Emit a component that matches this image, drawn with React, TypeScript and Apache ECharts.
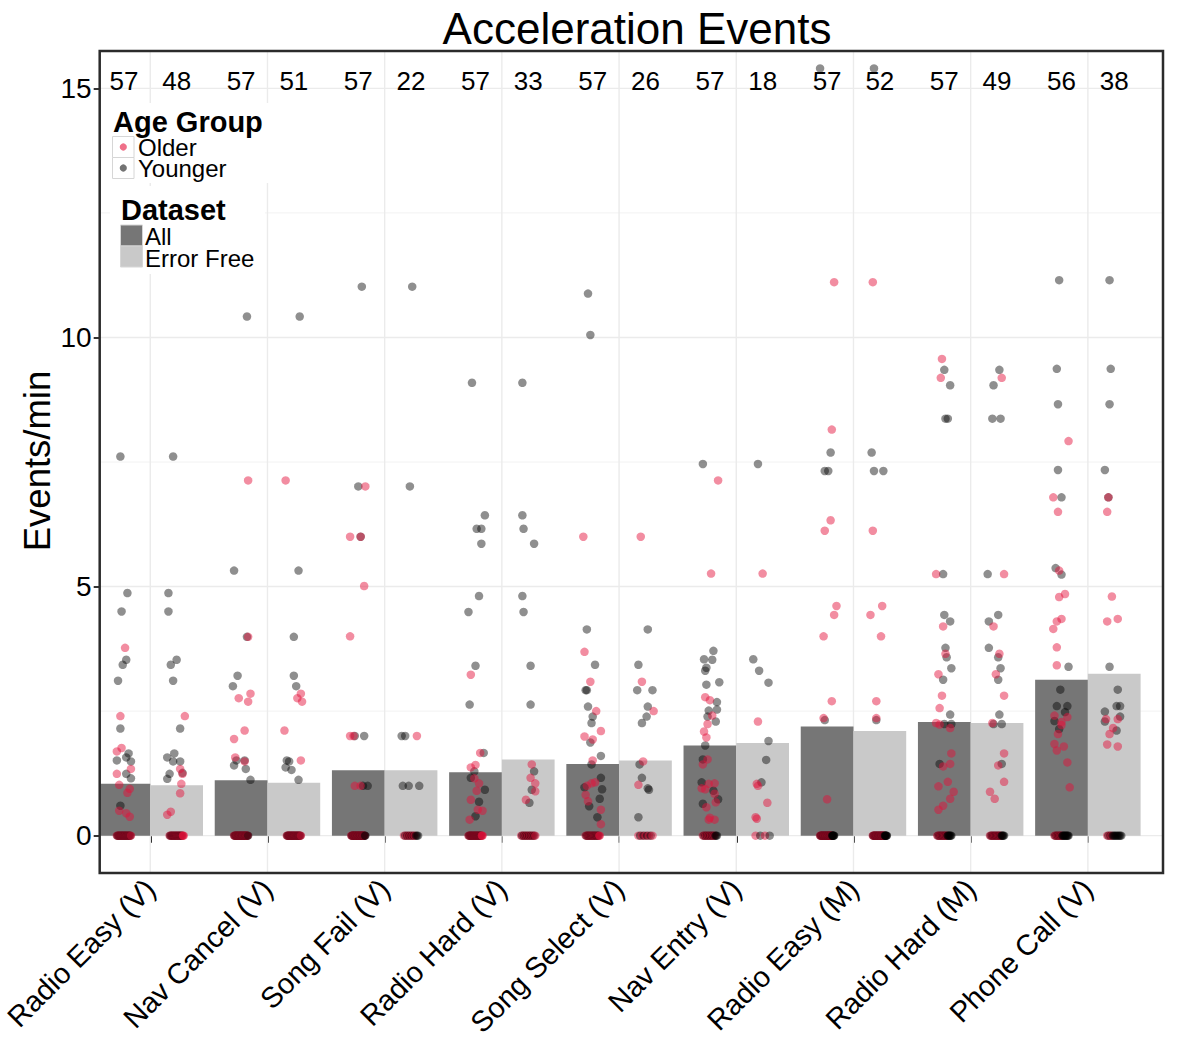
import React, { useEffect, useRef } from 'react';
import * as echarts from 'echarts';

// Task categories along the x axis
const categories = [
  'Radio Easy (V)', 'Nav Cancel (V)', 'Song Fail (V)', 'Radio Hard (V)', 'Song Select (V)',
  'Nav Entry (V)', 'Radio Easy (M)', 'Radio Hard (M)', 'Phone Call (V)',
];

// Mean events/min per category for each dataset
const meanAll = [1.04, 1.11, 1.31, 1.27, 1.44, 1.81, 2.19, 2.28, 3.13];
const meanErrorFree = [1.01, 1.06, 1.31, 1.53, 1.51, 1.86, 2.10, 2.26, 3.25];

// Number of drivers per category and dataset
const countAll = [57, 57, 57, 57, 57, 57, 57, 57, 56];
const countErrorFree = [48, 51, 22, 33, 26, 18, 52, 49, 38];

const yTicks = [0, 5, 10, 15];
const yGrid = [0, 2.5, 5, 7.5, 10, 12.5, 15];

// Individual drivers: [events/min, horizontal jitter in hundredths of a category]
type Pt = [number, number];

const olderAll: Pt[][] = [
  [[3.77, 1], [2.40, -3], [1.76, -2], [1.69, -6], [1.34, 6], [1.24, -6], [1.02, -4], [0.94, 5], [0.86, 3], [0.50, -4], [0.45, 2], [0.38, 5]],
  [[7.13, 6], [3.99, 6], [2.85, 8], [2.76, -2], [2.69, 6], [2.11, 3], [1.94, -6], [1.57, -5], [1.49, 3]],
  [[7.01, 6], [6.0, -7], [6.0, 2], [5.01, 5], [4.0, -7], [2.0, -7], [2.0, -4], [1.0, -3], [1.0, 2]],
  [[3.23, -4], [1.66, 4], [1.42, 0], [1.37, -4], [1.15, -1], [1.05, 3], [0.90, 1], [0.72, -4], [0.52, 2], [0.50, 6], [0.32, -5]],
  [[6.0, -8], [3.69, -7], [3.09, -2], [2.50, 3], [2.10, 7], [1.99, -7], [1.93, 0], [1.51, 0], [1.07, 2], [1.05, -1], [1.00, -5], [0.82, -6], [0.69, -4], [0.52, 7], [0.23, 7]],
  [[7.13, 7], [5.26, 1], [2.78, -4], [2.72, 0], [2.41, 2], [2.24, -2], [2.09, -5], [1.97, -3], [1.53, -2], [1.43, -6], [1.05, 4], [1.04, -1], [0.95, -7], [0.93, -4], [0.84, 4], [0.67, 5], [0.57, -3], [0.36, 0], [0.32, 4], [0.32, -1]],
  [[11.11, 6], [8.15, 4], [6.33, 3], [6.12, -2], [4.61, 8], [4.43, 6], [4.0, -3], [2.70, 4], [2.36, -3], [0.73, 0]],
  [[9.57, -2], [9.19, -3], [5.25, -7], [4.20, -1], [3.65, 1], [3.24, -5], [2.81, -2], [2.56, -4], [2.26, -7], [2.23, -4], [2.16, 5], [1.65, 6], [1.44, 5], [1.39, -1], [1.08, 3], [0.99, -5], [0.88, 8], [0.74, 5], [0.60, -1], [0.52, -5]],
  [[7.92, 6], [6.79, -7], [6.50, -3], [5.32, -2], [4.85, 3], [4.79, -2], [4.35, 0], [4.30, -4], [4.15, -7], [3.78, -4], [3.42, -4], [2.41, -6], [2.38, 5], [2.28, 0], [2.22, 0], [2.04, -3], [1.84, -6], [1.79, 2], [1.71, -4], [1.47, 5], [0.97, 7]],
];

const youngerAll: Pt[][] = [
  [[7.61, -3], [4.87, 3], [4.5, -2], [3.53, 2], [3.43, -1], [3.11, -5], [2.15, -3], [1.65, 4], [1.51, -6], [1.57, 2], [1.49, 6], [1.24, 2], [1.15, 6], [0.60, -3]],
  [[10.42, 5], [5.32, -6], [3.99, 5], [3.21, -3], [3.0, -7], [1.51, -4], [1.51, 3], [1.41, -6], [1.34, 4], [1.12, 8]],
  [[11.02, 3], [7.01, 0], [6.0, 2], [2.0, -3], [2.0, 5], [1.0, 4], [1.0, 8]],
  [[9.09, -3], [6.43, 8], [6.16, 1], [6.16, 5], [5.86, 5], [4.81, 3], [4.49, -6], [3.41, 0], [2.63, -5], [1.66, 7], [1.29, -1], [1.16, -4], [0.92, 8], [0.68, 3], [0.39, 0]],
  [[10.88, -4], [10.05, -2], [4.14, -5], [3.43, 2], [2.92, -6], [2.92, -5], [2.59, -4], [2.39, 0], [2.26, -1], [1.87, -2], [1.60, 7], [1.43, -1], [1.16, 7], [0.97, -7], [0.93, 8], [0.74, 6], [0.59, -3], [0.37, 4]],
  [[7.46, -6], [3.71, 3], [3.54, -5], [3.53, 2], [3.37, -3], [3.31, -4], [3.08, 8], [3.03, -3], [2.68, 6], [2.53, 6], [2.51, -1], [2.39, -2], [2.29, 5], [1.81, -4], [1.53, -6], [1.07, -7], [0.90, 3], [0.73, 7], [0.64, -6]],
  [[15.40, -6], [7.69, 3], [7.32, -2], [7.32, 1], [2.32, -2]],
  [[9.35, 0], [9.04, 5], [8.37, 1], [8.37, 3], [5.25, -1], [4.43, 0], [4.30, 5], [3.77, 1], [3.58, 2], [3.36, 6], [3.13, -1], [2.43, 5], [2.24, 0], [2.24, 6], [1.44, -4]],
  [[11.15, -2], [9.37, -4], [8.66, -3], [7.34, -3], [6.79, 0], [5.37, -5], [5.24, 0], [3.39, 6], [2.93, -1], [2.60, -4], [2.60, 5], [2.48, 3], [2.30, -6], [2.14, -2]],
];

const olderErrorFree: Pt[][] = [
  [[2.40, 7], [1.34, 3], [1.24, 5], [1.04, 4], [0.85, 3], [0.48, -5], [0.42, -8]],
  [[7.13, -7], [2.85, 6], [2.76, 3], [2.69, 7], [2.11, -8], [1.51, 6]],
  [[2.0, 5]],
  [[1.43, 3], [1.16, 2], [1.05, 6], [0.89, 6], [0.72, -2]],
  [[6.0, -4], [3.09, -3], [2.50, 7], [1.49, -2], [1.02, -6]],
  [[5.26, 0], [2.29, -4], [1.04, -5], [1.0, -4], [0.66, 4], [0.37, -6], [0.34, -5]],
  [[11.11, -6], [6.12, -6], [4.61, 2], [4.43, -8], [4.0, 1], [2.70, -3], [2.36, -3]],
  [[9.19, 4], [5.25, 6], [4.20, -3], [3.65, 2], [3.24, -1], [2.81, 6], [2.26, -4], [1.65, 6], [1.41, 1], [1.08, 6], [0.88, -6], [0.74, -2]],
  [[6.79, -5], [6.50, -6], [4.80, -2], [4.35, 3], [4.30, -6], [2.34, -7], [2.34, 3], [2.16, -1], [2.04, -4], [1.83, -6], [1.79, 3]],
];

const youngerErrorFree: Pt[][] = [
  [[7.61, -3], [4.87, -7], [4.5, -7], [3.53, 0], [3.43, -5], [3.11, -3], [2.15, 3], [1.65, -2], [1.57, -8], [1.49, -3], [1.49, 3], [1.26, 5], [1.24, -6], [1.14, -8]],
  [[10.42, 5], [5.32, 4], [3.99, 0], [3.21, 0], [3.0, 2], [1.51, -6], [1.49, -4], [1.37, -7], [1.32, -2], [1.12, 4]],
  [[11.02, 1], [7.01, -1], [2.0, -8], [2.0, -5], [1.0, -7], [1.0, -2], [1.0, 7]],
  [[9.09, -5], [6.43, -5], [6.16, -4], [5.86, 5], [4.81, -5], [4.49, -4], [3.41, 2], [2.63, 2], [1.29, 5], [0.92, 3], [0.66, 1]],
  [[4.14, 2], [3.43, -6], [2.92, -7], [2.92, 6], [2.59, 2], [2.39, 1], [2.26, -3], [1.43, -5], [1.16, -3], [0.95, 2], [0.92, 3], [0.37, -6]],
  [[7.46, -4], [3.54, -8], [3.31, -3], [3.07, 5], [1.90, 5], [1.52, 3], [1.07, -1]],
  [[15.40, -5], [7.69, -7], [7.32, -5], [7.32, 3], [2.32, -3]],
  [[9.35, 2], [9.04, -3], [8.37, -4], [8.37, 3], [5.25, -8], [4.43, 1], [4.30, -7], [3.77, -7], [3.58, 1], [3.36, 3], [3.13, 1], [2.43, 2], [2.24, -3], [2.24, 4], [1.44, 4]],
  [[11.15, -4], [9.37, -3], [8.66, -4], [7.34, -8], [6.79, -5], [3.39, -4], [2.93, 3], [2.60, 2], [2.60, 5], [2.49, -8], [2.39, 5], [2.29, -8], [2.11, 2]],
];

// Drivers with no events (value 0) per category
const zerosOlderAll = [16, 19, 20, 17, 13, 8, 18, 8, 6];
const zerosYoungerAll = [15, 19, 21, 14, 11, 10, 24, 14, 15];
const zerosOlderErrorFree = [15, 18, 6, 9, 5, 2, 17, 9, 3];
const zerosYoungerErrorFree = [12, 17, 8, 8, 4, 2, 23, 13, 11];

// Axis extents (categories sit at 1..9)
const X_MIN = 0.5685;
const X_MAX = 9.641;
const Y_MIN = -0.75;
const Y_MAX = 15.75;
const DODGE = 0.225;
const BAR_HALF = 0.225;
const COUNT_Y = 15.14;

const FONT = "'Liberation Sans', Arial, Helvetica, sans-serif";
const OLDER_COLOR = 'rgba(228,16,58,0.6)';
const YOUNGER_COLOR = 'rgba(0,0,0,0.55)';
const ALL_FILL = '#767676';
const EF_FILL = '#c9c9c9';

type XY = [number, number];

function nonZero(pts: Pt[][], offset: number): XY[] {
  const out: XY[] = [];
  pts.forEach((list, i) => list.forEach(([v, j]) => out.push([i + 1 + offset + j / 100, v])));
  return out;
}

// zero-valued drivers share one row; older and younger are interleaved across the jitter band
function zeroRow(older: number[], younger: number[], offset: number) {
  const out: { value: XY; itemStyle: { color: string } }[] = [];
  older.forEach((nO, i) => {
    const nY = younger[i];
    const k = nO + nY;
    let o = 0;
    let y = 0;
    for (let s = 0; s < k; s++) {
      const useOlder = (s % 2 === 0 && o < nO) || y >= nY;
      if (useOlder) o++; else y++;
      const j = k > 1 ? -6 + (12 * s) / (k - 1) : 0;
      out.push({
        value: [i + 1 + offset + j / 100, 0],
        itemStyle: { color: useOlder ? OLDER_COLOR : YOUNGER_COLOR },
      });
    }
  });
  return out;
}

const olderPoints: XY[] = [...nonZero(olderAll, -DODGE), ...nonZero(olderErrorFree, DODGE)];
const youngerPoints: XY[] = [...nonZero(youngerAll, -DODGE), ...nonZero(youngerErrorFree, DODGE)];
const zeroPoints = [
  ...zeroRow(zerosOlderAll, zerosYoungerAll, -DODGE),
  ...zeroRow(zerosOlderErrorFree, zerosYoungerErrorFree, DODGE),
];

function barSeries(name: string, means: number[], offset: number, fill: string) {
  return {
    type: 'custom',
    name,
    silent: true,
    z: 2,
    data: means.map((v, i) => [i + 1, v]),
    renderItem: (params: any, api: any) => {
      const cx = api.value(0) + offset;
      const v = api.value(1);
      const p0 = api.coord([cx - BAR_HALF, v]);
      const p1 = api.coord([cx + BAR_HALF, 0]);
      const cs = params.coordSys;
      const rect = echarts.graphic.clipRectByRect(
        { x: p0[0], y: p0[1], width: p1[0] - p0[0], height: p1[1] - p0[1] },
        { x: cs.x, y: cs.y, width: cs.width, height: cs.height },
      );
      if (!rect) return null;
      return { type: 'rect', shape: rect, style: { fill } };
    },
  };
}

function countSeries(counts: number[], offset: number) {
  return {
    type: 'custom',
    silent: true,
    z: 6,
    data: counts.map((n, i) => [i + 1 + offset, COUNT_Y, n]),
    renderItem: (_params: any, api: any) => {
      const p = api.coord([api.value(0), api.value(1)]);
      return {
        type: 'text',
        x: p[0],
        y: p[1],
        style: {
          text: String(api.value(2)),
          fontSize: 26,
          fontFamily: FONT,
          fill: '#000',
          align: 'center',
          verticalAlign: 'middle',
        },
      };
    },
  };
}

const pointStyle = { symbol: 'circle', symbolSize: 8.5, silent: true };

function buildOption() {
  const hGridData = yGrid.map((v) => [X_MIN, v, yTicks.includes(v) ? 1 : 0]);
  const vGridData = categories.map((_c, i) => [i + 1, Y_MIN]);

  const legendText = (text: string, x: number, y: number, bold = false, size = 24) => ({
    type: 'text',
    x,
    y,
    style: {
      text,
      fontSize: size,
      lineHeight: Math.round(size * 0.8),
      fontWeight: bold ? 'bold' : 'normal',
      fontFamily: FONT,
      fill: '#000',
      align: 'left',
      verticalAlign: 'middle',
    },
  });

  return {
    animation: false,
    backgroundColor: '#fff',
    grid: { left: 97, right: 15, top: 51, bottom: 171, containLabel: false },
    xAxis: {
      type: 'value',
      min: X_MIN,
      max: X_MAX,
      axisLine: { show: false },
      splitLine: { show: false },
      axisTick: { show: true, customValues: categories.map((_c, i) => i + 1), length: 7, lineStyle: { color: '#333', width: 2 } },
      axisLabel: {
        customValues: categories.map((_c, i) => i + 1),
        formatter: (v: number) => categories[Math.round(v) - 1] ?? '',
        rotate: 45,
        margin: 11,
        fontSize: 29,
        fontFamily: FONT,
        color: '#000',
      },
    },
    yAxis: {
      type: 'value',
      min: Y_MIN,
      max: Y_MAX,
      axisLine: { show: false },
      splitLine: { show: false },
      axisTick: { show: true, customValues: yTicks, length: 6, lineStyle: { color: '#333', width: 2 } },
      axisLabel: {
        customValues: yTicks,
        margin: 8,
        fontSize: 28,
        fontFamily: FONT,
        color: '#000',
      },
    },
    series: [
      {
        type: 'custom',
        silent: true,
        z: 1,
        data: hGridData,
        renderItem: (_p: any, api: any) => {
          const v = api.value(1);
          const a = api.coord([X_MIN, v]);
          const b = api.coord([X_MAX, v]);
          const major = api.value(2) === 1;
          return {
            type: 'line',
            shape: { x1: a[0], y1: a[1], x2: b[0], y2: b[1] },
            style: { stroke: major ? '#ebebeb' : '#f2f2f2', lineWidth: major ? 1.4 : 1 },
          };
        },
      },
      {
        type: 'custom',
        silent: true,
        z: 1,
        data: vGridData,
        renderItem: (_p: any, api: any) => {
          const v = api.value(0);
          const a = api.coord([v, Y_MIN]);
          const b = api.coord([v, Y_MAX]);
          return {
            type: 'line',
            shape: { x1: a[0], y1: a[1], x2: b[0], y2: b[1] },
            style: { stroke: '#ebebeb', lineWidth: 1.4 },
          };
        },
      },
      barSeries('All', meanAll, -DODGE, ALL_FILL),
      barSeries('Error Free', meanErrorFree, DODGE, EF_FILL),
      {
        type: 'scatter',
        name: 'Younger',
        z: 3,
        ...pointStyle,
        itemStyle: { color: YOUNGER_COLOR, borderWidth: 0 },
        data: youngerPoints,
      },
      {
        type: 'scatter',
        name: 'Older',
        z: 4,
        ...pointStyle,
        itemStyle: { color: OLDER_COLOR, borderWidth: 0 },
        data: olderPoints,
      },
      {
        type: 'scatter',
        name: 'No events',
        z: 4,
        ...pointStyle,
        itemStyle: { borderWidth: 0 },
        data: zeroPoints,
      },
      countSeries(countAll, -DODGE),
      countSeries(countErrorFree, DODGE),
      {
        // panel border drawn above the bars
        type: 'custom',
        silent: true,
        z: 10,
        data: [[X_MIN, Y_MIN]],
        renderItem: (params: any) => {
          const cs = params.coordSys;
          return {
            type: 'rect',
            shape: { x: cs.x, y: cs.y, width: cs.width, height: cs.height },
            style: { fill: 'none', stroke: '#2b2b2b', lineWidth: 2.5 },
          };
        },
      },
    ],
    graphic: [
      { type: 'text', x: 637, y: 28, style: { text: 'Acceleration Events', fontSize: 44, fontFamily: FONT, fill: '#000', align: 'center', verticalAlign: 'middle' } },
      { type: 'text', x: 37, y: 461, rotation: Math.PI / 2, style: { text: 'Events/min', fontSize: 36.5, fontFamily: FONT, fill: '#000', align: 'center', verticalAlign: 'middle' } },
      // Age Group legend
      { type: 'rect', shape: { x: 104, y: 103, width: 166, height: 80 }, style: { fill: '#fff' }, z: 20 },
      { ...legendText('Age Group', 113, 122, true, 29), z: 21 },
      { type: 'rect', shape: { x: 112.5, y: 136.5, width: 21.5, height: 21 }, style: { fill: '#fff', stroke: '#d6d6d6', lineWidth: 1 }, z: 21 },
      { type: 'rect', shape: { x: 112.5, y: 157.5, width: 21.5, height: 21 }, style: { fill: '#fff', stroke: '#d6d6d6', lineWidth: 1 }, z: 21 },
      { type: 'circle', shape: { cx: 123.3, cy: 147, r: 3.6 }, style: { fill: OLDER_COLOR }, z: 22 },
      { type: 'circle', shape: { cx: 123.3, cy: 168, r: 3.6 }, style: { fill: YOUNGER_COLOR }, z: 22 },
      { ...legendText('Older', 138, 147), z: 21 },
      { ...legendText('Younger', 138, 168.5), z: 21 },
      // Dataset legend
      { type: 'rect', shape: { x: 110, y: 186, width: 155, height: 88 }, style: { fill: '#fff' }, z: 20 },
      { ...legendText('Dataset', 121, 210, true, 29), z: 21 },
      { type: 'rect', shape: { x: 120.5, y: 225, width: 22, height: 21 }, style: { fill: ALL_FILL, stroke: '#d6d6d6', lineWidth: 1 }, z: 21 },
      { type: 'rect', shape: { x: 120.5, y: 246, width: 22, height: 21 }, style: { fill: EF_FILL, stroke: '#d6d6d6', lineWidth: 1 }, z: 21 },
      { ...legendText('All', 145, 236), z: 21 },
      { ...legendText('Error Free', 145, 258), z: 21 },
    ],
  };
}

export default function App() {
  const ref = useRef<HTMLDivElement | null>(null);

  useEffect(() => {
    document.body.style.margin = '0';
    if (!ref.current) return;
    const chart = echarts.init(ref.current, undefined, { renderer: 'svg' });
    chart.setOption(buildOption() as any);
    return () => chart.dispose();
  }, []);

  return <div ref={ref} style={{ width: 1178, height: 1044 }} />;
}
